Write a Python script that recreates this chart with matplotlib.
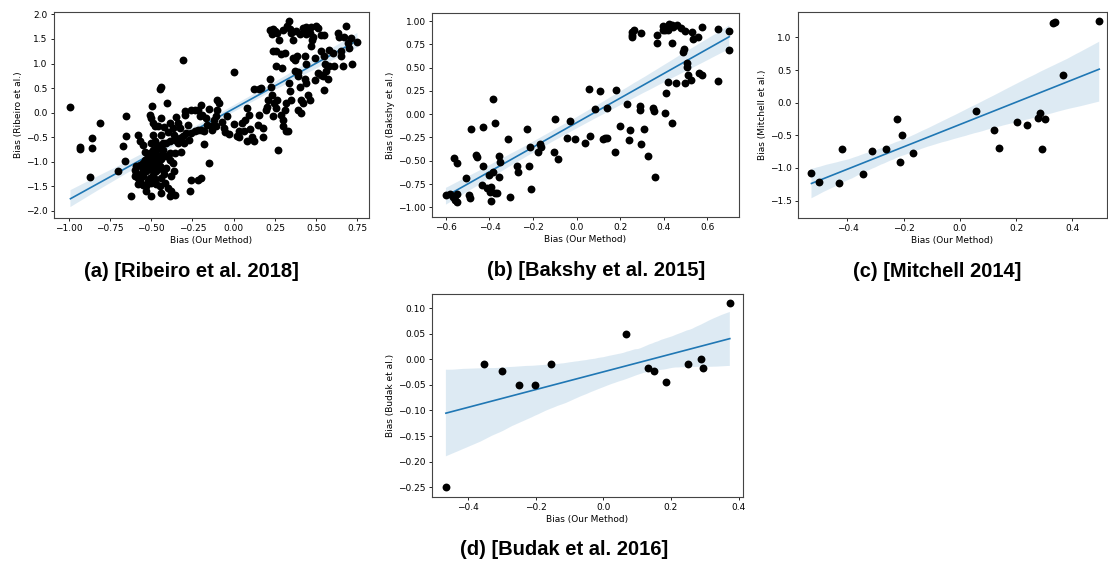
import numpy as np
import matplotlib
matplotlib.use("Agg")
import matplotlib.pyplot as plt
import seaborn as sns

# (a) Ribeiro et al. 2018 (x = our method, y = reference)
ribeiro_pts = [
    (-0.99, 0.11), (-0.93, -0.70), (-0.93, -0.75), (-0.86, -0.52), (-0.86, -0.72),
    (-0.87, -1.31), (-0.81, -0.21), (-0.70, -1.20),
    (-0.45, 0.47), (-0.44, 0.53), (-0.31, 1.08),
    # dense cluster
    (-0.651, -0.063), (-0.495, 0.127), (-0.403, 0.195), (-0.510, -0.042), (-0.500, -0.110),
    (-0.489, -0.212), (-0.479, -0.280), (-0.439, -0.110), (-0.459, -0.280), (-0.389, -0.212),
    (-0.368, -0.314), (-0.338, -0.212), (-0.328, -0.314), (-0.298, 0.025), (-0.298, -0.042),
    (-0.278, -0.246), (-0.258, 0.059), (-0.237, 0.059), (-0.217, 0.059), (-0.197, 0.161),
    (-0.207, -0.076), (-0.197, -0.348), (-0.217, -0.348), (-0.237, -0.382), (-0.258, -0.416),
    (-0.288, -0.416), (-0.308, -0.484), (-0.328, -0.518), (-0.358, -0.552), (-0.389, -0.586),
    (-0.409, -0.620), (-0.429, -0.620), (-0.449, -0.687), (-0.469, -0.755), (-0.489, -0.755),
    (-0.510, -0.823), (-0.520, -0.891), (-0.540, -0.959), (-0.550, -1.027), (-0.570, -1.061),
    (-0.590, -1.095), (-0.600, -1.163), (-0.590, -1.230), (-0.580, -1.332), (-0.570, -1.400),
    (-0.550, -1.468), (-0.530, -1.502), (-0.500, -1.434), (-0.510, -1.332), (-0.489, -1.264),
    (-0.469, -1.197), (-0.489, -1.095), (-0.500, -1.027), (-0.530, -1.095), (-0.550, -1.197),
    (-0.570, -1.264), (-0.449, -1.095), (-0.429, -1.163), (-0.409, -1.129), (-0.389, -0.959),
    (-0.368, -1.027), (-0.409, -0.891), (-0.439, -0.857), (-0.459, -0.925), (-0.469, -0.993),
    (-0.479, -0.857), (-0.429, -0.755), (-0.389, -0.823), (-0.358, -0.823), (-0.439, -1.332),
    (-0.419, -1.434), (-0.399, -1.536), (-0.379, -1.604), (-0.358, -1.672), (-0.389, -1.706),
    (-0.439, -1.638), (-0.500, -1.706), (-0.620, -1.692), (-0.268, -1.604), (-0.258, -1.366),
    (-0.217, -1.366), (-0.197, -1.332), (-0.671, -0.687), (-0.661, -0.993), (-0.651, -0.484),
    (-0.580, -0.450), (-0.570, -0.586), (-0.550, -0.654), (-0.500, -0.620), (-0.479, -0.586),
    (-0.55, -1.30), (-0.53, -1.20), (-0.51, -1.15), (-0.52, -1.40), (-0.48, -1.35),
    (-0.46, -1.05), (-0.44, -0.95), (-0.47, -1.45), (-0.53, -1.60), (-0.56, -1.10),
    (-0.42, -1.25), (-0.45, -1.50), (-0.50, -0.92), (-0.52, -1.00), (-0.47, -0.65),
    (-0.44, -0.45), (-0.40, -0.40), (-0.36, -0.45), (-0.34, -0.62), (-0.30, -0.62),
    (-0.27, -0.55), (-0.32, -0.80), (-0.36, -1.20), (-0.38, -1.30), (-0.58, -1.45),
    (-0.60, -1.30), (-0.54, -0.80), (-0.49, -0.45), (-0.42, -0.30), (-0.35, -0.10),
    # middle
    (-0.18, -0.64), (-0.18, -0.38), (-0.17, -0.11), (-0.15, -1.03), (-0.14, -0.28),
    (-0.11, -0.28), (-0.10, 0.26), (-0.09, 0.19), (-0.10, 0.06), (-0.11, -0.08),
    (-0.06, -0.32), (-0.04, -0.08), (-0.03, -0.44), (-0.16, -0.25), (-0.13, -0.35),
    (-0.07, -0.20), (-0.19, -0.05), (-0.12, -0.15), (-0.05, -0.40), (-0.15, 0.07),
    (0.00, 0.83), (0.00, -0.23), (0.02, -0.47), (0.03, -0.49), (0.03, -0.38),
    (0.05, -0.21), (0.06, -0.38), (0.07, -0.15), (0.08, 0.09), (0.08, -0.59),
    (0.09, -0.04), (0.10, -0.34), (0.11, -0.49), (0.12, -0.59), (0.125, 0.47),
    (0.155, 0.47), (0.165, 0.51), (0.145, -0.25), (0.155, -0.04), (0.175, -0.32),
    (0.18, -0.49), (0.195, 0.06), (0.20, 0.12), (0.21, 0.26), (0.22, 0.68),
    (0.225, 0.53), (0.235, 0.36), (0.245, 0.19), (0.255, 0.09), (0.24, -0.08),
    (0.26, 0.26),
    # upper right
    (0.22, 1.68), (0.23, 1.66), (0.24, 1.70), (0.25, 1.66), (0.23, 1.60),
    (0.275, 1.48), (0.24, 1.25), (0.255, 1.25), (0.255, 0.94), (0.27, -0.76),
    (0.285, -0.04), (0.30, -0.15), (0.30, -0.28), (0.31, 0.06), (0.315, 0.19),
    (0.315, -0.38), (0.33, -0.38), (0.335, 0.60), (0.34, 0.44), (0.35, 0.26),
    (0.285, 1.20), (0.29, 0.91), (0.30, 1.69), (0.32, 1.76), (0.335, 1.86),
    (0.35, 1.62), (0.36, 1.48), (0.37, 1.08), (0.385, 1.15), (0.37, 0.84),
    (0.39, 0.74), (0.40, 0.53), (0.41, 0.26), (0.39, 0.06), (0.41, 0.00),
    (0.42, 0.19), (0.42, 1.72), (0.43, 1.66), (0.44, 1.74), (0.44, 1.60),
    (0.46, 1.62), (0.47, 1.74), (0.48, 1.55), (0.43, 1.15), (0.44, 0.98),
    (0.43, 0.68), (0.45, 0.36), (0.46, 0.26), (0.47, 1.35), (0.49, 1.11),
    (0.50, 1.76), (0.51, 1.72), (0.49, 0.67), (0.51, 0.80), (0.53, 0.77),
    (0.54, 0.74), (0.475, 1.48), (0.53, 1.25), (0.55, 1.15), (0.555, 0.98),
    (0.56, 0.84), (0.58, 0.94), (0.57, 0.68), (0.55, 0.46), (0.53, 1.59),
    (0.55, 1.59), (0.58, 1.28), (0.60, 1.21), (0.61, 0.94), (0.63, 1.62),
    (0.64, 1.55), (0.65, 1.25), (0.66, 0.94), (0.67, 1.55), (0.68, 1.76),
    (0.69, 1.42), (0.70, 1.32), (0.71, 1.52), (0.72, 0.98), (0.75, 1.43),
    (0.65, 1.15), (0.26, 1.62), (0.34, 1.70), (0.38, 1.66), (0.40, 1.60),
    (0.31, 1.22), (0.36, 1.12), (0.39, 0.82), (0.44, 0.60),
]

# (b) Bakshy et al. 2015
bakshy_pts = [
    (-0.60, -0.87), (-0.58, -0.86), (-0.563, -0.474), (-0.548, -0.528), (-0.566, -0.886),
    (-0.559, -0.921), (-0.548, -0.939), (-0.548, -0.86), (-0.508, -0.689), (-0.493, -0.868),
    (-0.49, -0.90), (-0.487, -0.163), (-0.462, -0.438), (-0.459, -0.456), (-0.429, -0.141),
    (-0.429, -0.553), (-0.433, -0.76), (-0.413, -0.796), (-0.401, -0.653), (-0.398, -0.832),
    (-0.395, -0.932), (-0.392, -0.778), (-0.383, 0.159), (-0.375, -0.098), (-0.383, -0.617),
    (-0.375, -0.843), (-0.367, -0.85), (-0.355, -0.449), (-0.352, -0.517), (-0.355, -0.671),
    (-0.314, -0.27), (-0.306, -0.893), (-0.275, -0.556), (-0.268, -0.624), (-0.23, -0.163),
    (-0.217, -0.553), (-0.214, -0.349), (-0.211, -0.807), (-0.176, -0.403), (-0.168, -0.32),
    (-0.165, -0.349), (-0.099, -0.052), (-0.104, -0.403), (-0.084, -0.481), (-0.031, -0.07),
    (-0.043, -0.259), (-0.008, -0.27), (0.038, -0.313), (0.055, 0.267), (0.061, -0.231),
    (0.086, 0.052), (0.107, 0.249), (0.122, -0.27), (0.132, -0.259), (0.141, -0.259),
    (0.141, 0.07), (0.181, 0.259), (0.176, -0.403), (0.199, -0.127), (0.23, 0.109),
    (0.239, -0.277), (0.245, -0.17), (0.253, 0.85), (0.256, 0.886), (0.253, 0.825),
    (0.264, 0.903), (0.291, 0.088), (0.291, 0.045), (0.294, -0.324), (0.298, 0.868),
    (0.309, -0.163), (0.329, -0.449), (0.349, 0.063), (0.357, 0.034), (0.36, -0.671),
    (0.367, 0.85), (0.367, 0.767), (0.395, 0.946), (0.398, 0.903), (0.406, 0.903),
    (0.406, 0.009), (0.41, 0.224), (0.421, 0.349), (0.426, 0.968), (0.436, 0.957),
    (0.444, 0.939), (0.421, 0.903), (0.436, 0.767), (0.436, -0.091), (0.456, 0.331),
    (0.462, 0.957), (0.479, 0.921), (0.49, 0.671), (0.493, 0.696), (0.497, 0.896),
    (0.497, 0.331), (0.505, 0.546), (0.505, 0.51), (0.513, 0.42), (0.524, 0.367),
    (0.528, 0.886), (0.536, 0.803), (0.559, 0.825), (0.563, 0.445), (0.574, 0.42),
    (0.574, 0.932), (0.651, 0.911), (0.651, 0.36), (0.701, 0.896), (0.701, 0.689),
]

# (c) Mitchell 2014
mitchell_pts = [
    (-0.528, -1.071), (-0.501, -1.219), (-0.430, -1.235), (-0.419, -0.709), (-0.344, -1.097),
    (-0.311, -0.740), (-0.262, -0.709), (-0.224, -0.245), (-0.214, -0.903), (-0.206, -0.495),
    (-0.167, -0.765), (0.056, -0.128), (0.123, -0.418), (0.141, -0.699), (0.202, -0.301),
    (0.238, -0.342), (0.277, -0.230), (0.285, -0.153), (0.292, -0.709), (0.304, -0.245),
    (0.330, 1.219), (0.339, 1.230), (0.366, 0.423), (0.496, 1.25),
]

# (d) Budak et al. 2016
budak_pts = [
    (-0.465, -0.25), (-0.353, -0.009), (-0.298, -0.023), (-0.248, -0.050), (-0.202, -0.050),
    (-0.153, -0.009), (0.067, 0.050), (0.133, -0.016), (0.151, -0.023), (0.185, -0.045),
    (0.249, -0.009), (0.289, 0.0), (0.294, -0.016), (0.374, 0.111),
]

y_labels = ["Bias (Ribeiro et al.)", "Bias (Bakshy et al.)",
            "Bias (Mitchell et al.)", "Bias (Budak et al.)"]
captions = ["(a) [Ribeiro et al. 2018]", "(b) [Bakshy et al. 2015]",
            "(c) [Mitchell 2014]", "(d) [Budak et al. 2016]"]

fig = plt.figure(figsize=(11.08, 5.64), dpi=100)

panels = [
    # data, axes rect, xlim, ylim, xstep, ystep, caption pos
    (ribeiro_pts, [0.0487, 0.6135, 0.2843, 0.3652], (-1.09, 0.82), (-2.15, 2.05), 0.25, 0.5, (0.173, 0.518)),
    (bakshy_pts, [0.3899, 0.6152, 0.2771, 0.3617], (-0.664, 0.746), (-1.104, 1.086), 0.2, 0.25, (0.538, 0.521)),
    (mitchell_pts, [0.7202, 0.6135, 0.2790, 0.3652], (-0.576, 0.524), (-1.766, 1.389), 0.2, 0.5, (0.846, 0.518)),
    (budak_pts, [0.3899, 0.1188, 0.2807, 0.3600], (-0.506, 0.413), (-0.269, 0.1277), 0.2, 0.05, (0.509, 0.025)),
]

for i, (pts, rect, xl, yl, xs, ys, cpos) in enumerate(panels):
    arr = np.array(pts)
    x, y = arr[:, 0], arr[:, 1]
    ax = fig.add_axes(rect)
    ax.scatter(x, y, s=32, c="black", linewidths=0, zorder=3)
    sns.regplot(x=x, y=y, ax=ax, scatter=False, color="#1f77b4",
                line_kws={"lw": 1.2}, seed=1)
    ax.set_xlim(*xl)
    ax.set_ylim(*yl)
    ax.xaxis.set_major_locator(plt.MultipleLocator(xs))
    ax.yaxis.set_major_locator(plt.MultipleLocator(ys))
    ax.tick_params(labelsize=6.5, length=2.5, width=0.6, pad=2)
    ax.set_xlabel("Bias (Our Method)", fontsize=6.5, labelpad=2)
    ax.set_ylabel(y_labels[i], fontsize=6.5, labelpad=2)
    for sp in ax.spines.values():
        sp.set_color("#444444")
        sp.set_linewidth(0.8)
    fig.text(cpos[0], cpos[1], captions[i], ha="center", va="center",
             fontsize=14.5, fontweight="bold", family="Liberation Sans")

fig.savefig("out.png", dpi=100)
